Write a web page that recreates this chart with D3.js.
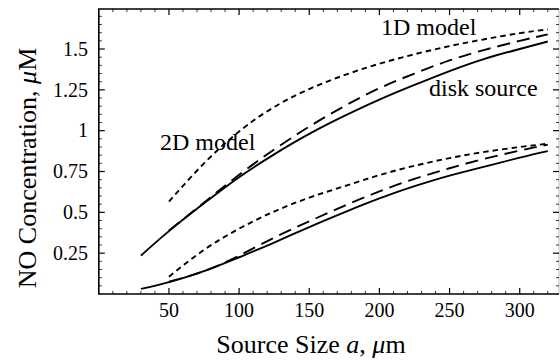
<!DOCTYPE html>
<html>
<head>
<meta charset="utf-8">
<script src="https://cdn.jsdelivr.net/npm/d3@7"></script>
<style>
  body { margin: 0; background: #fff; }
  svg { display: block; font-family: "Liberation Serif", "Times New Roman", serif; }
</style>
</head>
<body>
<svg id="d3-container"></svg>
<script>
const WIDTH = 560
const HEIGHT = 360

// source size a (µm) for curves that start at 30 and at 50
const SIZE_FROM_30 = [30, 50, 75, 100, 125, 150, 175, 200, 225, 250, 275, 300, 320]
const SIZE_FROM_50 = [50, 75, 100, 125, 150, 175, 200, 225, 250, 275, 300, 320]

// upper group
const diskUpper = [0.235, 0.385, 0.555, 0.715, 0.855, 0.98, 1.09, 1.19, 1.28, 1.365, 1.44, 1.5, 1.546]
const longDashUpper = [0.388, 0.56, 0.73, 0.885, 1.025, 1.15, 1.26, 1.35, 1.43, 1.495, 1.55, 1.59]
const shortDashUpper = [0.566, 0.8, 0.995, 1.145, 1.255, 1.34, 1.41, 1.468, 1.518, 1.56, 1.597, 1.62]

// lower group
const diskLower = [0.031, 0.073, 0.14, 0.225, 0.315, 0.41, 0.5, 0.585, 0.66, 0.725, 0.78, 0.835, 0.875]
const longDashLower = [0.075, 0.14, 0.235, 0.345, 0.445, 0.54, 0.628, 0.705, 0.77, 0.828, 0.878, 0.915]
const shortDashLower = [0.106, 0.27, 0.4, 0.505, 0.59, 0.66, 0.728, 0.785, 0.832, 0.87, 0.9, 0.92]

const X_TICKS = [50, 100, 150, 200, 250, 300]
const Y_TICKS = [0.25, 0.5, 0.75, 1, 1.25, 1.5]
const Y_TICK_LABELS = ["0.25", "0.5", "0.75", "1", "1.25", "1.5"]

const svg = d3.select("#d3-container").attr("width", WIDTH).attr("height", HEIGHT)

const x = d3.scaleLinear().domain([0, 328]).range([98.8, 559])
const y = d3.scaleLinear().domain([0, 1.745]).range([294, 9])

const series = [
  {sizes: SIZE_FROM_30, values: diskUpper, dash: null},
  {sizes: SIZE_FROM_50, values: longDashUpper, dash: "13,7"},
  {sizes: SIZE_FROM_50, values: shortDashUpper, dash: "5.5,4"},
  {sizes: SIZE_FROM_30, values: diskLower, dash: null},
  {sizes: SIZE_FROM_50, values: longDashLower, dash: "13,7"},
  {sizes: SIZE_FROM_50, values: shortDashLower, dash: "5.5,4"},
]

// frame
const [x0, x1] = x.range()
const [yb, yt] = y.range()
svg.append("line").attr("x1", x1).attr("x2", x1).attr("y1", yt).attr("y2", yb)
  .attr("stroke", "#bbb").attr("stroke-width", 1)
svg.append("path")
  .attr("d", `M${x1},${yt}H${x0}V${yb}H${x1}`)
  .attr("fill", "none").attr("stroke", "#000").attr("stroke-width", 1.6)

// ticks pointing inward on all four sides
const xMinor = d3.range(10, 330, 10).filter((d) => d % 50 !== 0)
const yMinor = d3.range(0.05, 1.745, 0.05).filter((d) => Math.abs(d / 0.25 - Math.round(d / 0.25)) > 1e-6)
const tickG = svg.append("g").attr("stroke", "#000")
function xTicks(vals, len, w) {
  vals.forEach((v) => {
    tickG.append("line").attr("x1", x(v)).attr("x2", x(v)).attr("y1", yb).attr("y2", yb - len).attr("stroke-width", w)
    tickG.append("line").attr("x1", x(v)).attr("x2", x(v)).attr("y1", yt).attr("y2", yt + len).attr("stroke-width", w)
  })
}
function yTicks(vals, len, w) {
  vals.forEach((v) => {
    tickG.append("line").attr("y1", y(v)).attr("y2", y(v)).attr("x1", x0).attr("x2", x0 + len).attr("stroke-width", w)
    tickG.append("line").attr("y1", y(v)).attr("y2", y(v)).attr("x1", x1).attr("x2", x1 - len).attr("stroke-width", w)
  })
}
xTicks(X_TICKS, 6, 1.2)
xTicks(xMinor, 3, 0.8)
yTicks(Y_TICKS, 6, 1.2)
yTicks(yMinor, 3, 0.8)

// tick labels
svg.append("g").selectAll("text").data(X_TICKS).enter().append("text")
  .attr("x", (d) => x(d)).attr("y", 317)
  .attr("text-anchor", "middle").attr("font-size", 20)
  .text((d) => d)
svg.append("g").selectAll("text").data(Y_TICKS).enter().append("text")
  .attr("x", 88).attr("y", (d) => y(d)).attr("dy", "0.34em")
  .attr("text-anchor", "end").attr("font-size", 20)
  .text((d, i) => Y_TICK_LABELS[i])

// curves
const line = d3.line().curve(d3.curveNatural)
svg.append("g").selectAll("path").data(series).enter().append("path")
  .attr("d", (s) => line(s.sizes.map((a, i) => [x(a), y(s.values[i])])))
  .attr("fill", "none").attr("stroke", "#000").attr("stroke-width", 1.9)
  .attr("stroke-dasharray", (s) => s.dash)

// curve labels
const labels = [
  {text: "1D model", x: 381, y: 35},
  {text: "disk source", x: 429, y: 96},
  {text: "2D model", x: 160, y: 150},
]
svg.append("g").selectAll("text").data(labels).enter().append("text")
  .attr("x", (d) => d.x).attr("y", (d) => d.y).attr("font-size", 24)
  .text((d) => d.text)

// axis titles
const xTitle = svg.append("text").attr("x", 311).attr("y", 353)
  .attr("text-anchor", "middle").attr("font-size", 26)
xTitle.append("tspan").text("Source Size ")
xTitle.append("tspan").attr("font-style", "italic").text("a")
xTitle.append("tspan").text(", ")
xTitle.append("tspan").attr("font-style", "italic").text("μ")
xTitle.append("tspan").text("m")

const yTitle = svg.append("text").attr("transform", "translate(36,168) rotate(-90)")
  .attr("text-anchor", "middle").attr("font-size", 26)
yTitle.append("tspan").text("NO Concentration, ")
yTitle.append("tspan").attr("font-style", "italic").text("μ")
yTitle.append("tspan").text("M")
</script>
</body>
</html>
